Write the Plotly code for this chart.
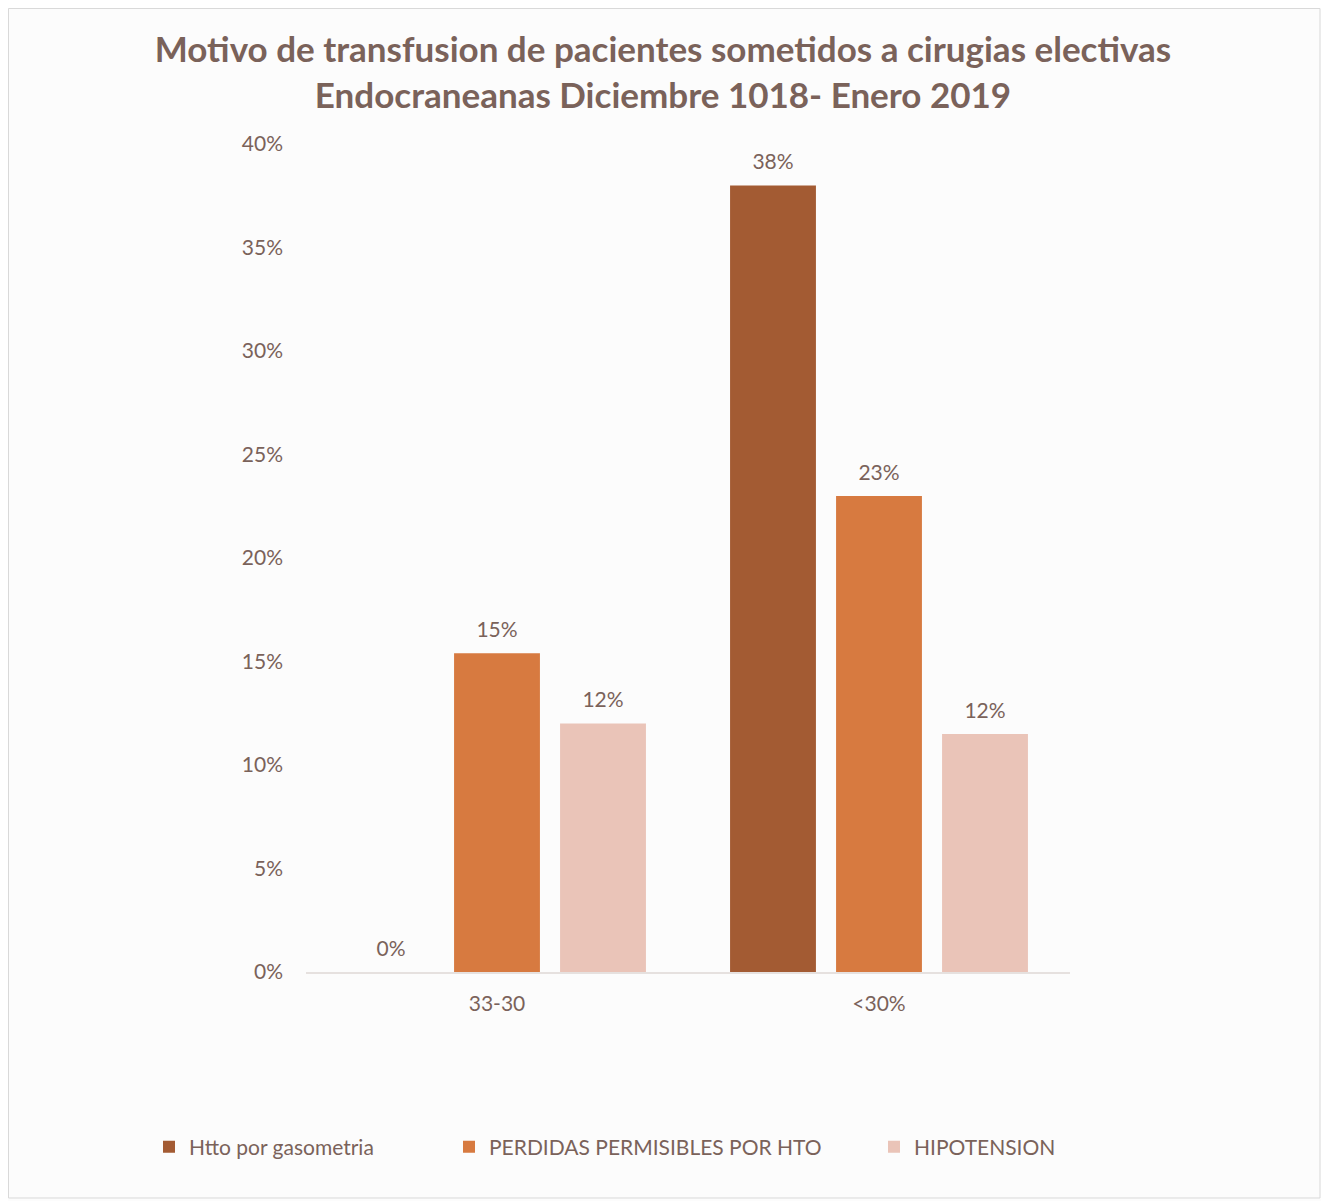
import plotly.graph_objects as go

categories = ["33-30", "<30%"]
series_names = ["Htto por gasometria", "PERDIDAS PERMISIBLES POR HTO", "HIPOTENSION"]
htto = [0.0, 38.0]
perdidas = [15.4, 23.0]
hipotension = [12.0, 11.5]
y_ticks = [0, 5, 10, 15, 20, 25, 30, 35, 40]
y_tick_labels = [f"{v}%" for v in y_ticks]

colors = ["#A35B33", "#D77A40", "#EAC4B8"]
series_values = [htto, perdidas, hipotension]

TXT = "#7A625A"
FONT = "Lato"

W, H = 1329, 1201
OFF = 8  # page body margin
# plot area in page pixels
PL, PR, PT, PB = 306, 1070, 144, 972
L, R, T, B = PL - OFF, PR - OFF, PT - OFF, PB - OFF


def px_x(page_x):
    return (page_x - OFF - L) / (R - L)


def px_y(page_y):
    return (B - (page_y - OFF)) / (B - T)


fig = go.Figure()
legend_x = [165, 465, 890]
for i, (name, vals, col) in enumerate(zip(series_names, series_values, colors)):
    leg = "legend" if i == 0 else f"legend{i+1}"
    fig.add_trace(go.Bar(
        x=categories, y=vals, name=name,
        marker=dict(color=col, line=dict(width=0)),
        offsetgroup=str(i), alignmentgroup="a",
        legend=leg, hoverinfo="skip",
    ))
    fig.add_trace(go.Scatter(
        x=categories, y=vals, mode="markers+text",
        text=[f"{round(v):.0f}%" for v in vals],
        textposition="top center", cliponaxis=False,
        marker=dict(size=16, opacity=0),
        textfont=dict(color=TXT, size=21, family=FONT),
        offsetgroup=str(i), alignmentgroup="a",
        showlegend=False, legend=leg, hoverinfo="skip",
    ))

legend_common = dict(
    orientation="h", yanchor="middle", xanchor="left",
    font=dict(color=TXT, size=21, family=FONT),
    bgcolor="rgba(0,0,0,0)", itemwidth=30,
)
layout_legends = {}
for i, lx in enumerate(legend_x):
    key = "legend" if i == 0 else f"legend{i+1}"
    layout_legends[key] = dict(legend_common, x=px_x(lx - 16), y=px_y(1147))

fig.update_layout(
    width=W, height=H,
    margin=dict(l=L, r=W - R, t=T, b=H - B, pad=0),
    paper_bgcolor="#FCFCFC", plot_bgcolor="#FCFCFC",
    barmode="group", bargap=0.1675, bargroupgap=0.19,
    scattermode="group", scattergap=0.1675,
    showlegend=True,
    title=dict(
        text="Motivo de transfusion de pacientes sometidos a cirugias electivas<br>Endocraneanas Diciembre 1018- Enero 2019",
        x=(663 - OFF) / W, xref="container", xanchor="center",
        y=1 - 54 / H, yanchor="top",
        font=dict(family=FONT, size=35, color=TXT, weight="bold"),
    ),
    font=dict(family=FONT, color=TXT, size=21),
    xaxis=dict(
        showgrid=False, showline=True, linecolor="#E6E1DF", linewidth=2,
        ticks="", tickfont=dict(size=21, color=TXT, family=FONT),
        ticklabelstandoff=12, domain=[0, 1],
    ),
    yaxis=dict(
        range=[0, 40], tickvals=y_ticks, ticktext=y_tick_labels,
        showgrid=False, zeroline=False, showline=False, ticks="",
        tickfont=dict(size=21, color=TXT, family=FONT),
        ticklabelstandoff=22,
    ),
    shapes=[dict(
        type="rect", xref="paper", yref="paper",
        x0=px_x(8.5), x1=px_x(1320), y0=px_y(1198), y1=px_y(8.5),
        line=dict(color="#D9D9D9", width=1), fillcolor="rgba(0,0,0,0)", layer="below",
    )],
    **layout_legends,
)

fig.write_html("out.html")
